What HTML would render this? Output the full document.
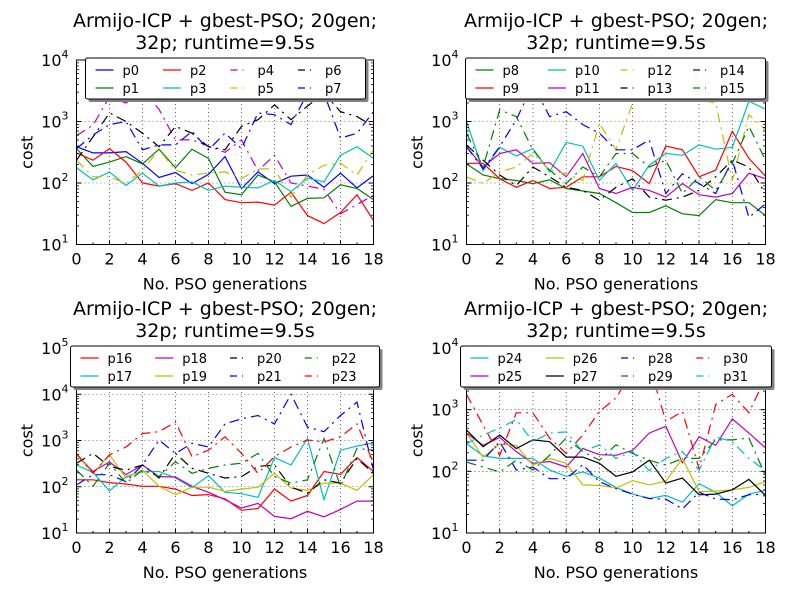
<!DOCTYPE html>
<html><head><meta charset="utf-8">
<style>
html,body{margin:0;padding:0;background:#fff;}
svg{display:block;font-family:"DejaVu Sans","Liberation Sans",sans-serif;}
</style></head>
<body>
<svg id="fig" width="800" height="595" viewBox="0 0 800 595" xmlns="http://www.w3.org/2000/svg"></svg>
<script>
// x axis categories: PSO generation index
const generations = [0,1,2,3,4,5,6,7,8,9,10,11,12,13,14,15,16,17,18];
const xTickLabels = ["0","2","4","6","8","10","12","14","16","18"];
const xTickValues = [0,2,4,6,8,10,12,14,16,18];
// series values, stored as log10(cost)
const p0 = [2.59,2.49,2.49,2.51,2.32,2.09,2.17,1.99,2.14,2.43,1.91,2.18,1.99,2.11,2.13,1.93,2.16,1.92,2.12];
const p1 = [2.56,2.27,2.34,2.43,2.31,2.55,2.25,2.55,2.40,1.85,1.81,2.13,2.02,1.62,1.75,1.76,1.97,1.91,1.73];
const p2 = [2.49,2.37,2.56,2.34,2.00,1.95,1.99,1.88,2.00,1.73,1.68,1.69,1.64,1.85,1.47,1.34,1.52,1.81,1.39];
const p3 = [2.25,2.05,2.18,1.96,2.16,1.95,2.00,2.02,1.88,1.95,1.93,1.92,2.04,1.86,2.08,2.02,2.45,2.59,2.40];
const p4 = [2.77,2.94,3.40,3.30,3.50,3.20,2.70,2.70,2.60,2.50,2.70,2.20,2.45,2.00,1.95,1.90,1.50,1.65,1.80];
const p5 = [2.37,2.10,2.10,1.99,2.21,2.54,2.21,2.13,2.16,2.18,2.07,2.23,2.23,1.77,2.13,2.29,2.32,2.13,2.54];
const p6 = [2.37,2.75,3.14,3.00,2.81,2.59,2.92,2.81,2.59,2.54,2.92,3.03,3.27,3.03,3.25,3.46,3.16,3.08,2.92];
const p7 = [2.56,2.78,2.95,3.00,2.54,2.62,2.62,2.84,2.54,2.81,2.56,3.14,3.11,2.95,3.46,3.46,2.73,2.81,3.16];
const p8 = [2.31,2.13,2.07,2.04,1.99,2.05,1.91,1.87,1.83,1.68,1.52,1.52,1.63,1.50,1.47,1.73,1.68,1.68,1.47];
const p9 = [2.32,2.32,2.07,1.93,2.04,1.91,1.93,2.10,2.10,2.27,2.20,1.99,2.60,2.54,2.10,2.21,2.84,2.40,2.11];
const p10 = [3.00,2.20,2.58,2.44,2.56,2.18,2.66,2.60,2.04,2.32,1.88,2.29,2.48,2.45,2.62,2.55,2.58,3.33,3.20];
const p11 = [2.59,2.26,2.48,2.54,2.32,2.33,2.10,2.48,1.91,1.83,1.93,1.88,1.77,1.99,1.81,1.77,1.83,2.16,2.07];
const p12 = [2.10,1.99,2.18,2.26,2.48,2.21,2.15,2.04,2.97,2.54,3.30,3.63,3.85,3.52,3.36,3.30,2.04,3.11,2.86];
const p13 = [2.62,2.37,2.13,1.96,2.26,2.10,1.93,1.88,1.72,1.93,2.07,1.77,1.72,1.77,1.88,2.10,2.37,2.26,1.83];
const p14 = [2.59,2.23,2.59,3.03,3.60,3.08,3.16,2.95,2.81,2.54,2.54,2.70,1.83,2.15,1.99,1.83,2.37,1.44,1.66];
const p15 = [2.81,2.26,3.19,3.08,2.54,2.21,1.99,2.26,2.10,2.48,2.48,2.26,2.37,1.83,2.10,1.88,2.32,2.92,2.37];
const p16 = [2.15,2.15,2.09,2.06,2.01,2.01,1.95,1.81,1.83,1.74,1.49,1.53,1.95,1.69,1.81,2.33,2.27,2.63,2.33];
const p17 = [2.47,2.31,1.91,2.22,2.33,2.33,2.19,1.98,2.24,1.88,1.85,1.77,2.63,2.47,3.04,1.72,2.79,2.88,2.95];
const p18 = [2.69,2.33,2.54,2.26,2.47,2.22,2.21,2.01,1.88,1.72,1.54,1.64,1.36,1.31,1.47,1.35,1.51,1.69,1.69];
const p19 = [2.69,2.29,2.69,2.19,2.36,2.01,1.83,1.99,1.99,1.90,1.95,1.99,2.29,1.97,1.92,2.08,2.08,1.92,2.26];
const p20 = [2.51,2.72,2.44,2.36,2.47,2.19,2.72,2.40,2.29,2.19,2.22,2.44,2.47,1.99,1.86,2.15,2.08,2.61,2.29];
const p21 = [2.04,2.26,2.26,2.11,2.47,3.01,2.72,2.94,2.86,3.36,3.47,3.54,3.36,4.00,3.29,3.19,3.54,3.83,2.36];
const p22 = [2.36,2.01,2.51,2.08,2.36,2.22,2.54,2.29,2.40,2.47,2.51,2.72,2.22,2.08,2.15,3.04,2.01,2.83,2.79];
const p23 = [2.72,2.29,2.69,2.86,3.15,3.19,3.40,2.65,2.79,3.08,2.72,2.29,2.65,2.86,3.01,2.97,3.08,3.36,2.51];
const p24 = [2.45,2.25,2.21,2.21,2.21,2.02,1.92,1.99,1.89,1.74,1.63,1.56,1.61,1.50,1.80,1.66,1.44,1.63,1.69];
const p25 = [2.62,2.42,2.55,2.32,2.13,2.16,2.07,2.37,2.27,2.26,2.34,2.62,2.73,2.14,2.56,2.42,2.85,2.62,2.38];
const p26 = [2.62,2.23,2.44,2.42,2.10,2.21,2.13,1.78,1.77,1.73,1.85,1.78,1.84,2.21,1.67,1.68,1.70,1.74,1.83];
const p27 = [2.67,2.40,2.59,2.37,2.51,2.48,2.23,2.23,2.13,1.92,1.99,2.18,1.81,1.89,1.62,1.63,1.70,1.87,1.61];
const p28 = [2.18,2.18,2.48,2.02,2.07,1.88,1.88,2.11,1.83,1.72,1.63,1.56,1.55,1.39,1.66,1.55,1.54,1.62,1.63];
const p29 = [2.15,2.07,1.99,2.18,2.02,2.26,2.54,2.32,2.18,2.43,2.29,2.18,2.10,2.21,2.21,2.51,2.51,2.54,1.93];
const p30 = [3.25,2.75,2.26,2.95,2.95,2.54,2.29,2.59,2.97,3.19,3.63,3.74,2.81,2.97,2.04,3.08,3.25,2.95,3.52];
const p31 = [2.45,2.59,2.70,2.84,2.48,2.62,2.64,2.32,2.43,2.21,2.32,2.01,2.21,2.32,2.02,2.56,2.48,2.21,2.01];
const seriesNames = ["p0","p1","p2","p3","p4","p5","p6","p7","p8","p9","p10","p11","p12","p13","p14","p15","p16","p17","p18","p19","p20","p21","p22","p23","p24","p25","p26","p27","p28","p29","p30","p31"];
const seriesData = [p0,p1,p2,p3,p4,p5,p6,p7,p8,p9,p10,p11,p12,p13,p14,p15,p16,p17,p18,p19,p20,p21,p22,p23,p24,p25,p26,p27,p28,p29,p30,p31];
const panelDecadeMax = [4,4,5,4];

const NS="http://www.w3.org/2000/svg";
const svg=document.getElementById('fig');
const COLORS=['#0000ff','#008000','#ff0000','#00bfbf','#bf00bf','#bfbf00','#000000'];
function mk(tag,attrs,parent){const e=document.createElementNS(NS,tag);for(const k in attrs)e.setAttribute(k,attrs[k]);(parent||svg).appendChild(e);return e;}
const panels=[{x0:76.5,x1:373.5,y0:60,y1:244.5},{x0:466.5,x1:765.5,y0:60,y1:244.5},{x0:76.5,x1:373.5,y0:348,y1:533},{x0:466.5,x1:765.5,y0:348,y1:533}];
panels.forEach((P,pi)=>{
  const g=mk('g',{});
  
  
  const top=panelDecadeMax[pi], bot=1;
  const xs=v=>P.x0+(v-0)/(18-0)*(P.x1-P.x0);
  const ys=l=>P.y1-(l-bot)/(top-bot)*(P.y1-P.y0);
  const cx=(P.x0+P.x1)/2;
  const t1=mk('text',{x:cx,y:P.y0-33,'text-anchor':'middle','font-size':'19'},g);t1.textContent='Armijo-ICP + gbest-PSO; 20gen;';
  
  const t2=mk('text',{x:cx,y:P.y0-11,'text-anchor':'middle','font-size':'19'},g);t2.textContent='32p; runtime=9.5s';
  
  xTickValues.forEach(v=>{const l=mk('line',{x1:xs(v),x2:xs(v),y1:P.y0,y2:P.y1,stroke:'#000','stroke-width':0.6,'stroke-dasharray':'1,3'},g);
    });
  for(let d=bot;d<=top;d++){const l=mk('line',{x1:P.x0,x2:P.x1,y1:ys(d),y2:ys(d),stroke:'#000','stroke-width':0.6,'stroke-dasharray':'1,3'},g);
    }
  const clipId='clip'+pi;
  const cp=mk('clipPath',{id:clipId},g);mk('rect',{x:P.x0,y:P.y0,width:P.x1-P.x0,height:P.y1-P.y0},cp);
  for(let k=0;k<8;k++){
    const si=pi*8+k;const vals=seriesData[si];
    const pts=vals.map((v,i)=>xs(generations[i]).toFixed(1)+','+ys(v).toFixed(1)).join(' ');
    const dashed=k>=4;
    const pl=mk('polyline',{points:pts,fill:'none',stroke:COLORS[si%7],'stroke-width':1.2,'clip-path':'url(#'+clipId+')'},g);
    if(dashed)pl.setAttribute('stroke-dasharray','10,5,2,5');
    
    
  }
  const fr=mk('rect',{x:P.x0,y:P.y0,width:P.x1-P.x0,height:P.y1-P.y0,fill:'none',stroke:'#000','stroke-width':1},g);
  
  xTickValues.forEach((v,i)=>{
    mk('line',{x1:xs(v),x2:xs(v),y1:P.y1,y2:P.y1-4,stroke:'#000'},g);
    mk('line',{x1:xs(v),x2:xs(v),y1:P.y0,y2:P.y0+4,stroke:'#000'},g);
    if(i<xTickValues.length-1){const m=(v+xTickValues[i+1])/2;
      mk('line',{x1:xs(m),x2:xs(m),y1:P.y1,y2:P.y1-2,stroke:'#000'},g);
      mk('line',{x1:xs(m),x2:xs(m),y1:P.y0,y2:P.y0+2,stroke:'#000'},g);}
    const tl=mk('text',{x:xs(v),y:P.y1+20,'text-anchor':'middle','font-size':'16'},g);tl.textContent=xTickLabels[i];
    
  });
  for(let d=bot;d<=top;d++){
    mk('line',{x1:P.x0,x2:P.x0+5,y1:ys(d),y2:ys(d),stroke:'#000'},g);
    mk('line',{x1:P.x1,x2:P.x1-5,y1:ys(d),y2:ys(d),stroke:'#000'},g);
    if(d<top)for(let m=2;m<10;m++){const yy=ys(d+Math.log10(m));
      mk('line',{x1:P.x0,x2:P.x0+2.5,y1:yy,y2:yy,stroke:'#000','stroke-width':0.8},g);
      mk('line',{x1:P.x1,x2:P.x1-2.5,y1:yy,y2:yy,stroke:'#000','stroke-width':0.8},g);}
    const tl=mk('text',{x:P.x0-8,y:ys(d)+6,'text-anchor':'end','font-size':'16'},g);
    tl.innerHTML='10<tspan dy="-8" font-size="11">'+d+'</tspan>';
    
  }
  const xl=mk('text',{x:cx,y:P.y1+45,'text-anchor':'middle','font-size':'16'},g);xl.textContent='No. PSO generations';
  
  const yc=(P.y0+P.y1)/2;
  const yl=mk('text',{x:P.x0-44,y:yc,'text-anchor':'middle','font-size':'16',transform:'rotate(-90 '+(P.x0-44)+' '+yc+')'},g);yl.textContent='cost';
  
  const wide=(pi>=2);
  const lx=wide?P.x0-6:(P.x0+9+(pi==1?-10:0)), lw=wide?(P.x1-P.x0+12):(pi==1?300:280);
  const ly=P.y0-2, lh=41;
  const lg=mk('g',{},g);
  
  mk('rect',{x:lx+3,y:ly+3,width:lw,height:lh,rx:2,fill:'#808080'},lg);
  mk('rect',{x:lx,y:ly,width:lw,height:lh,rx:2,fill:'#fff',stroke:'#000','stroke-width':1},lg);
  const colW=(lw-10)/4;
  for(let k=0;k<8;k++){
    const si=pi*8+k;const col=Math.floor(k/2),row=k%2;
    const ex=lx+10+col*colW, ey=ly+12+row*18;
    const e=mk('g',{},lg);
    
    const ln=mk('line',{x1:ex,x2:ex+18,y1:ey,y2:ey,stroke:COLORS[si%7],'stroke-width':1.2},e);
    if(k>=4)ln.setAttribute('stroke-dasharray','7,5,1,5');
    const tx=mk('text',{x:ex+27,y:ey+5,'font-size':'13'},e);tx.textContent=seriesNames[si];
  }
});
</script>
</body></html>
